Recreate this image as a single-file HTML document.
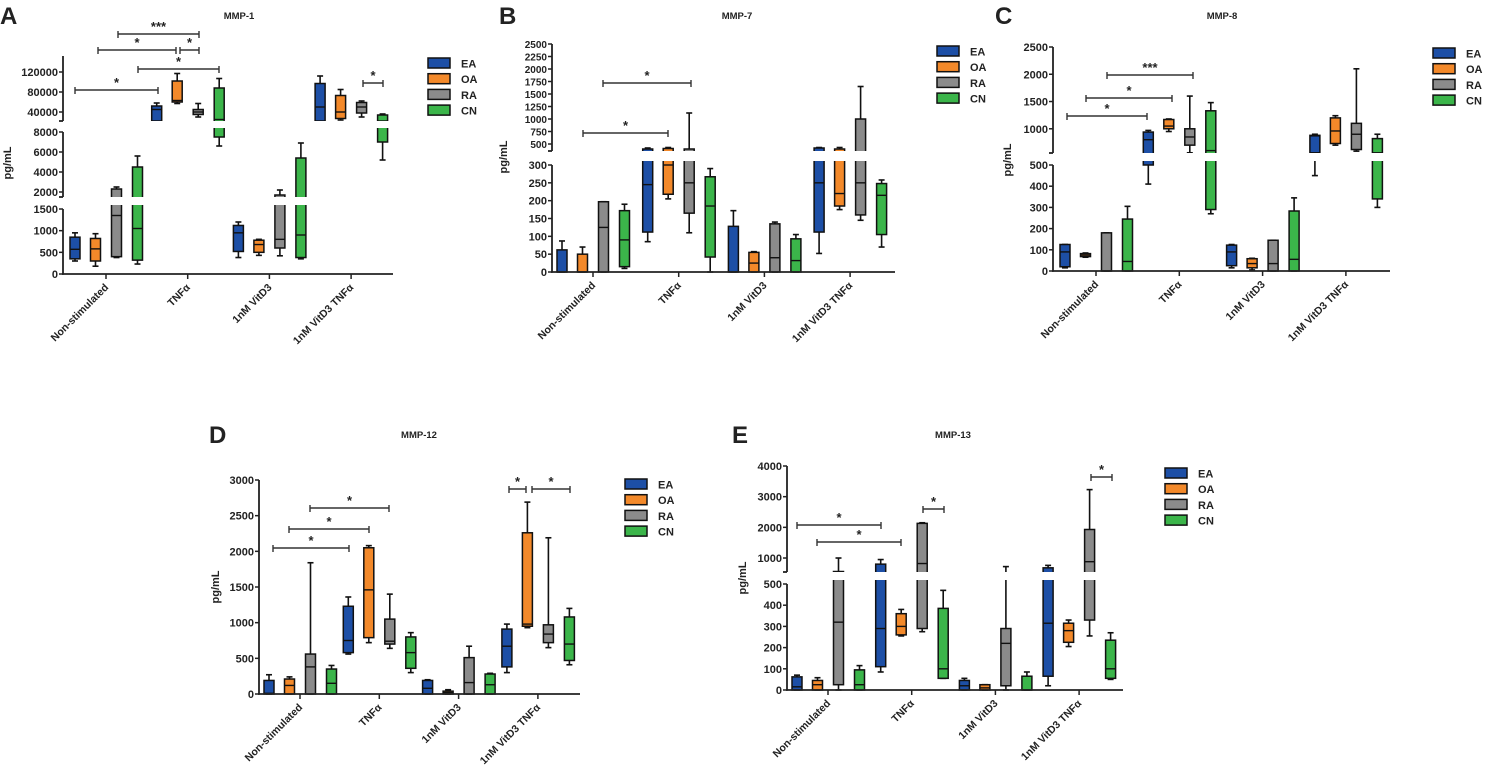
<!DOCTYPE html>
<html><head><meta charset="utf-8"><style>
html,body{margin:0;padding:0;background:#fff;}
svg{display:block;font-family:"Liberation Sans",Arial,sans-serif;}
text{font-weight:bold;fill:#222;}
</style></head><body>
<svg id="fig" width="1489" height="773" viewBox="0 0 1489 773" xmlns="http://www.w3.org/2000/svg"></svg>
<script>
const categories = ["Non-stimulated","TNFα","1nM VitD3","1nM VitD3 TNFα"];
const seriesNames = ["EA","OA","RA","CN"];
// each entry: [min, q1, median, q3, max] per category
const mmp1_EA = [[300,350,570,850,950],[22000,22000,45000,52000,58000],[380,520,950,1120,1200],[22000,22000,50000,97000,112000]];
const mmp1_OA = [[180,300,580,820,930],[57000,60000,63000,102000,117000],[430,500,680,780,800],[24000,27000,40000,73000,85000]];
const mmp1_RA = [[380,400,1350,2300,2500],[30000,35000,40000,45000,57000],[420,600,800,1700,2200],[30000,38000,50000,59000,62000]];
const mmp1_CN = [[230,320,1050,4500,5600],[6600,7500,25000,88000,107000],[350,380,900,5400,6900],[5200,7000,22000,34000,36000]];
const mmp7_EA = [[0,0,0,62,87],[85,112,245,400,420],[0,0,0,128,172],[52,112,250,420,430]];
const mmp7_OA = [[0,0,0,50,70],[205,218,300,410,430],[0,0,25,55,57],[175,185,220,400,430]];
const mmp7_RA = [[0,0,125,197,197],[110,165,250,400,1120],[0,0,40,135,140],[145,160,250,1000,1650]];
const mmp7_CN = [[10,15,90,172,190],[0,42,185,267,290],[0,0,32,93,105],[70,105,215,248,258]];
const mmp8_EA = [[15,20,90,125,125],[410,500,800,940,970],[15,25,90,122,125],[450,560,870,880,900]];
const mmp8_OA = [[65,68,75,82,85],[950,1000,1050,1170,1180],[5,15,35,58,60],[700,730,960,1200,1240]];
const mmp8_RA = [[0,0,0,180,180],[560,700,850,1000,1600],[0,0,35,145,145],[590,620,900,1100,2100]];
const mmp8_CN = [[0,0,45,245,305],[270,290,600,1330,1480],[0,0,55,283,345],[300,340,560,820,900]];
const mmp12_EA = [[0,0,10,190,270],[560,580,750,1230,1360],[0,0,80,190,200],[300,380,670,910,980]];
const mmp12_OA = [[0,0,120,210,240],[720,790,1460,2050,2080],[0,0,20,40,60],[930,950,980,2260,2690]];
const mmp12_RA = [[0,0,380,560,1840],[640,700,740,1050,1400],[0,0,160,510,670],[650,720,840,970,2190]];
const mmp12_CN = [[0,0,150,350,400],[300,360,580,800,860],[0,0,130,280,290],[410,470,700,1080,1200]];
const mmp13_EA = [[0,0,15,62,70],[85,110,290,800,950],[0,0,20,45,55],[20,65,315,680,760]];
const mmp13_OA = [[0,0,25,45,58],[255,260,300,360,380],[0,0,10,25,25],[205,225,280,315,330]];
const mmp13_RA = [[0,25,320,560,1000],[275,290,820,2130,2150],[0,20,220,290,720],[255,330,880,1930,3230]];
const mmp13_CN = [[0,0,25,95,115],[55,55,100,385,470],[0,0,0,65,85],[50,55,100,235,270]];
// tick labels per axis segment
const ticksA = [[0,500,1000,1500],[2000,4000,6000,8000],[40000,80000,120000]];
const ticksB = [[0,50,100,150,200,250,300],[500,750,1000,1250,1500,1750,2000,2250,2500]];
const ticksC = [[0,100,200,300,400,500],[1000,1500,2000,2500]];
const ticksD = [[0,500,1000,1500,2000,2500,3000]];
const ticksE = [[0,100,200,300,400,500],[1000,2000,3000,4000]];

const colors = ["#1d4fa6","#f3892a","#8b8b8b","#3bb54a"];
const NS = "http://www.w3.org/2000/svg";
const fig = document.getElementById('fig');
function mk(tag, attrs, parent){const e=document.createElementNS(NS,tag);for(const k in attrs)e.setAttribute(k,attrs[k]);(parent||fig).appendChild(e);return e;}

const panels = [
 {id:'a',letter:'A',title:'MMP-1',lx:0,ly:24,tx:239,ty:19,ax:63,right:393,base:274,g0:106,gs:81.7,
  segs:[{v0:0,v1:1500,p0:274,p1:209},{v0:1500,v1:8000,p0:197,p1:132},{v0:22000,v1:152000,p0:121,p1:56}],
  ticks:ticksA,data:[mmp1_EA,mmp1_OA,mmp1_RA,mmp1_CN],legX:428,legY:58,ytx:11,yty:163,
  sig:[[118,199,34,'***'],[98,176,50,'*'],[180,199,50,'*'],[138,219,69,'*'],[75,158,90,'*'],[363,383,83,'*']]},
 {id:'b',letter:'B',title:'MMP-7',lx:499,ly:24,tx:737,ty:19,ax:552,right:895,base:272,g0:593,gs:85.7,
  segs:[{v0:0,v1:300,p0:272,p1:165},{v0:360,v1:2500,p0:151,p1:44}],
  ticks:ticksB,data:[mmp7_EA,mmp7_OA,mmp7_RA,mmp7_CN],legX:937,legY:46,ytx:507,yty:157,
  sig:[[603,691,83,'*'],[583,668,133,'*']]},
 {id:'c',letter:'C',title:'MMP-8',lx:995,ly:24,tx:1222,ty:19,ax:1053,right:1390,base:271,g0:1096,gs:83.3,
  segs:[{v0:0,v1:500,p0:271,p1:165},{v0:556,v1:2500,p0:153,p1:47}],
  ticks:ticksC,data:[mmp8_EA,mmp8_OA,mmp8_RA,mmp8_CN],legX:1433,legY:48,ytx:1011,yty:160,
  sig:[[1107,1193,75,'***'],[1086,1172,98,'*'],[1067,1147,116,'*']]},
 {id:'d',letter:'D',title:'MMP-12',lx:209,ly:443,tx:419,ty:438,ax:259,right:580,base:694,g0:300,gs:79.3,
  segs:[{v0:0,v1:3000,p0:694,p1:480}],
  ticks:ticksD,data:[mmp12_EA,mmp12_OA,mmp12_RA,mmp12_CN],legX:625,legY:479,ytx:219,yty:587,
  sig:[[273,349,548,'*'],[289,369,529,'*'],[310,389,508,'*'],[509,526,489,'*'],[532,570,489,'*']]},
 {id:'e',letter:'E',title:'MMP-13',lx:732,ly:443,tx:953,ty:438,ax:787,right:1123,base:690,g0:828,gs:83.7,
  segs:[{v0:0,v1:500,p0:690,p1:584},{v0:544,v1:4000,p0:572,p1:466}],
  ticks:ticksE,data:[mmp13_EA,mmp13_OA,mmp13_RA,mmp13_CN],legX:1165,legY:468,ytx:746,yty:578,
  sig:[[797,881,525,'*'],[817,901,542,'*'],[923,944,509,'*'],[1091,1112,477,'*']]}
];
const offsets=[-31,-10.5,10.5,31.5];
const bw=10;

function makeScale(segs){
  return function(v){
    for(let i=0;i<segs.length;i++){const s=segs[i];
      if(v<=s.v1||i===segs.length-1){
        if(v>=s.v0||i===0) return s.p0+(v-s.v0)/(s.v1-s.v0)*(s.p1-s.p0);
        const pr=segs[i-1]; return pr.p1+(v-pr.v1)/(s.v0-pr.v1)*(s.p0-pr.p1);
      }}
  };
}

panels.forEach(P=>{
  const g=mk('g',{});
  
  
  const L=mk('text',{x:P.lx,y:P.ly,'font-size':24},g); L.textContent=P.letter;
   
  const T=mk('text',{x:P.tx,y:P.ty,'font-size':9.5,'text-anchor':'middle'},g); T.textContent=P.title;
   
  const y=makeScale(P.segs);
  const gx=i=>P.g0+i*P.gs;
  P.segs.forEach((s,si)=>{
    const a=mk('line',{x1:P.ax,x2:P.ax,y1:s.p0+(si===0?0.75:0),y2:s.p1,stroke:'#222','stroke-width':1.8},g);
     
    if(si>0){mk('line',{x1:P.ax-4,x2:P.ax,y1:s.p0,y2:s.p0,stroke:'#222','stroke-width':1.8},g);}
    (P.ticks[si]||[]).forEach(t=>{
      const py=y(t);
      mk('line',{x1:P.ax-4,x2:P.ax,y1:py,y2:py,stroke:'#222','stroke-width':1.5},g);
      const tl=mk('text',{x:P.ax-5,y:py+4,'font-size':(P.id==='b'&&si===1)?10:11,'text-anchor':'end'},g);
      tl.textContent=t;
       
    });
    const cp=mk('clipPath',{id:'clip-'+P.id+'-'+si},g);
    mk('rect',{x:P.ax+1,y:s.p1-4,width:P.right-P.ax,height:s.p0-s.p1+4+(si===0?2:0)},cp);
    const bg=mk('g',{'clip-path':'url(#clip-'+P.id+'-'+si+')'},g);
    P.data.forEach((ser,k)=>{
      ser.forEach((d,i)=>{
        const cx=gx(i)+offsets[k];
        const bx=mk('g',{},bg);
        
        
        const [mn,q1,md,q3,mx]=d;
        mk('line',{x1:cx,x2:cx,y1:y(mn),y2:y(q1),stroke:'#111','stroke-width':1.6},bx);
        mk('line',{x1:cx,x2:cx,y1:y(q3),y2:y(mx),stroke:'#111','stroke-width':1.6},bx);
        mk('line',{x1:cx-3,x2:cx+3,y1:y(mn),y2:y(mn),stroke:'#111','stroke-width':1.6},bx);
        mk('line',{x1:cx-3,x2:cx+3,y1:y(mx),y2:y(mx),stroke:'#111','stroke-width':1.6},bx);
        mk('rect',{x:cx-bw/2,y:y(q3),width:bw,height:Math.max(0.5,y(q1)-y(q3)),fill:colors[k],stroke:'#111','stroke-width':1.5},bx);
        mk('line',{x1:cx-bw/2,x2:cx+bw/2,y1:y(md),y2:y(md),stroke:'#111','stroke-width':1.4},bx);
      });
    });
  });
  const xa=mk('line',{x1:P.ax-1,x2:P.right,y1:P.base,y2:P.base,stroke:'#222','stroke-width':1.8},g);
   
  categories.forEach((c,i)=>{
    const x=gx(i);
    mk('line',{x1:x,x2:x,y1:P.base,y2:P.base+5,stroke:'#222','stroke-width':1.5},g);
    const cl=mk('text',{x:0,y:0,'font-size':10.5,'text-anchor':'end',transform:'translate('+(x+3)+','+(P.base+14)+') rotate(-45)'},g);
    cl.textContent=c;
     
  });
  const yt=mk('text',{x:0,y:0,'font-size':11,'text-anchor':'middle',transform:'translate('+P.ytx+','+P.yty+') rotate(-90)'},g);
  yt.textContent='pg/mL';
   
  P.sig.forEach(s=>{
    const sg=mk('g',{},g);
     
    mk('line',{x1:s[0],x2:s[1],y1:s[2],y2:s[2],stroke:'#333','stroke-width':1.4},sg);
    mk('line',{x1:s[0],x2:s[0],y1:s[2]-3,y2:s[2]+4,stroke:'#333','stroke-width':1.4},sg);
    mk('line',{x1:s[1],x2:s[1],y1:s[2]-3,y2:s[2]+4,stroke:'#333','stroke-width':1.4},sg);
    const st=mk('text',{x:(s[0]+s[1])/2,y:s[2]-3,'font-size':13,'text-anchor':'middle'},sg); st.textContent=s[3];
  });
  seriesNames.forEach((n,k)=>{
    const lg=mk('g',{},g);
     
    mk('rect',{x:P.legX,y:P.legY+k*15.7,width:22,height:10,fill:colors[k],stroke:'#111','stroke-width':1.5},lg);
    const lt=mk('text',{x:P.legX+33,y:P.legY+k*15.7+9.5,'font-size':11},lg); lt.textContent=n;
  });
});
</script>
</body></html>
